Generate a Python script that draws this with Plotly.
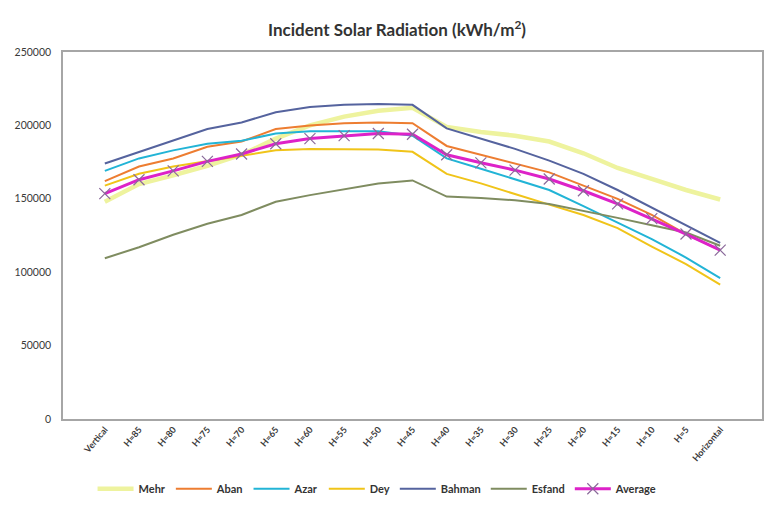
import plotly.graph_objects as go

# Tilt categories from vertical to horizontal
categories = ["Vertical", "H=85", "H=80", "H=75", "H=70", "H=65", "H=60", "H=55",
              "H=50", "H=45", "H=40", "H=35", "H=30", "H=25", "H=20", "H=15",
              "H=10", "H=5", "Horizontal"]

# Monthly incident solar radiation (kWh/m2)
mehr = [148000, 160000, 166000, 172500, 180000, 191000, 200000, 206000, 210000, 212000,
        199000, 195500, 193000, 189000, 181000, 171000, 163500, 156000, 149500]
aban = [162000, 172000, 177500, 185500, 189000, 197500, 200000, 201500, 202000, 201500,
        186000, 180000, 174000, 168000, 159000, 150000, 139000, 126000, 115000]
azar = [169000, 177500, 183000, 187500, 189500, 194500, 196000, 196000, 196000, 193000,
        177500, 170500, 163500, 156000, 145000, 134000, 122500, 110000, 96000]
dey = [159000, 167000, 172000, 175500, 179500, 183000, 184000, 184000, 183500, 182000,
       167000, 160500, 153000, 146000, 139000, 130000, 117500, 105500, 91500]
bahman = [174000, 182000, 189500, 197500, 202000, 209000, 212500, 214000, 214500, 214000,
          198000, 191000, 184000, 176000, 167000, 156000, 144000, 132000, 120000]
esfand = [109500, 117000, 125500, 133000, 139000, 148000, 152500, 156500, 160500, 162500,
          151500, 150500, 149000, 146500, 142000, 137000, 132000, 127000, 118000]
average = [153500, 163000, 169000, 175500, 180500, 187500, 191000, 193000, 194500, 194000,
           180000, 174500, 169500, 163500, 155500, 146500, 136500, 126000, 115000]

y_ticks = [0, 50000, 100000, 150000, 200000, 250000]

series = [
    ("Mehr", mehr, "#eef39e", 4.5),
    ("Aban", aban, "#ed7d31", 2),
    ("Azar", azar, "#22b4d6", 2),
    ("Dey", dey, "#f0c419", 2),
    ("Bahman", bahman, "#55639e", 2),
    ("Esfand", esfand, "#7f8c60", 2),
]

FONT = "Lato, 'Open Sans', sans-serif"

fig = go.Figure()
for name, vals, color, width in series:
    fig.add_trace(go.Scatter(x=categories, y=vals, name=f"<b>{name}</b>", mode="lines",
                             line=dict(color=color, width=width)))

fig.add_trace(go.Scatter(
    x=categories, y=average, name="<b>Average</b>", mode="lines+markers",
    line=dict(color="#dd22c8", width=3),
    marker=dict(symbol="x-thin-open", size=11,
                line=dict(color="#8a6a9a", width=1.2), color="#8a6a9a"),
))

fig.update_layout(
    width=767, height=506,
    margin=dict(l=63, r=3, t=52, b=82),
    paper_bgcolor="white", plot_bgcolor="white",
    title=dict(text="<b>Incident Solar Radiation (kWh/m<sup>2</sup>)</b>",
               x=397 / 767, xanchor="center", y=1 - 30 / 506, yanchor="middle",
               font=dict(family=FONT, size=17, color="#333333")),
    showlegend=True,
    legend=dict(orientation="h", x=0.45, xanchor="center", y=-0.19, yanchor="middle",
                font=dict(family=FONT, size=11, color="#333333"),
                itemwidth=36, bgcolor="rgba(0,0,0,0)"),
    xaxis=dict(showgrid=False, zeroline=False, showline=True, linecolor="#a6a6a6",
               linewidth=1.5, mirror=True, tickangle=-50, ticks="",
               tickfont=dict(family=FONT, size=9, color="#3a3a3a"),
               tickprefix="<b>", ticksuffix="</b>"),
    yaxis=dict(range=[0, 250000], tickvals=y_ticks, showgrid=False, zeroline=False,
               showline=True, linecolor="#a6a6a6", linewidth=1.5, mirror=True,
               ticks="", tickformat="d", ticklabelstandoff=8,
               tickfont=dict(family=FONT, size=10.5, color="#3a3a3a"),
               tickprefix="<b>", ticksuffix="</b>"),
)

fig.write_html("out.html")
